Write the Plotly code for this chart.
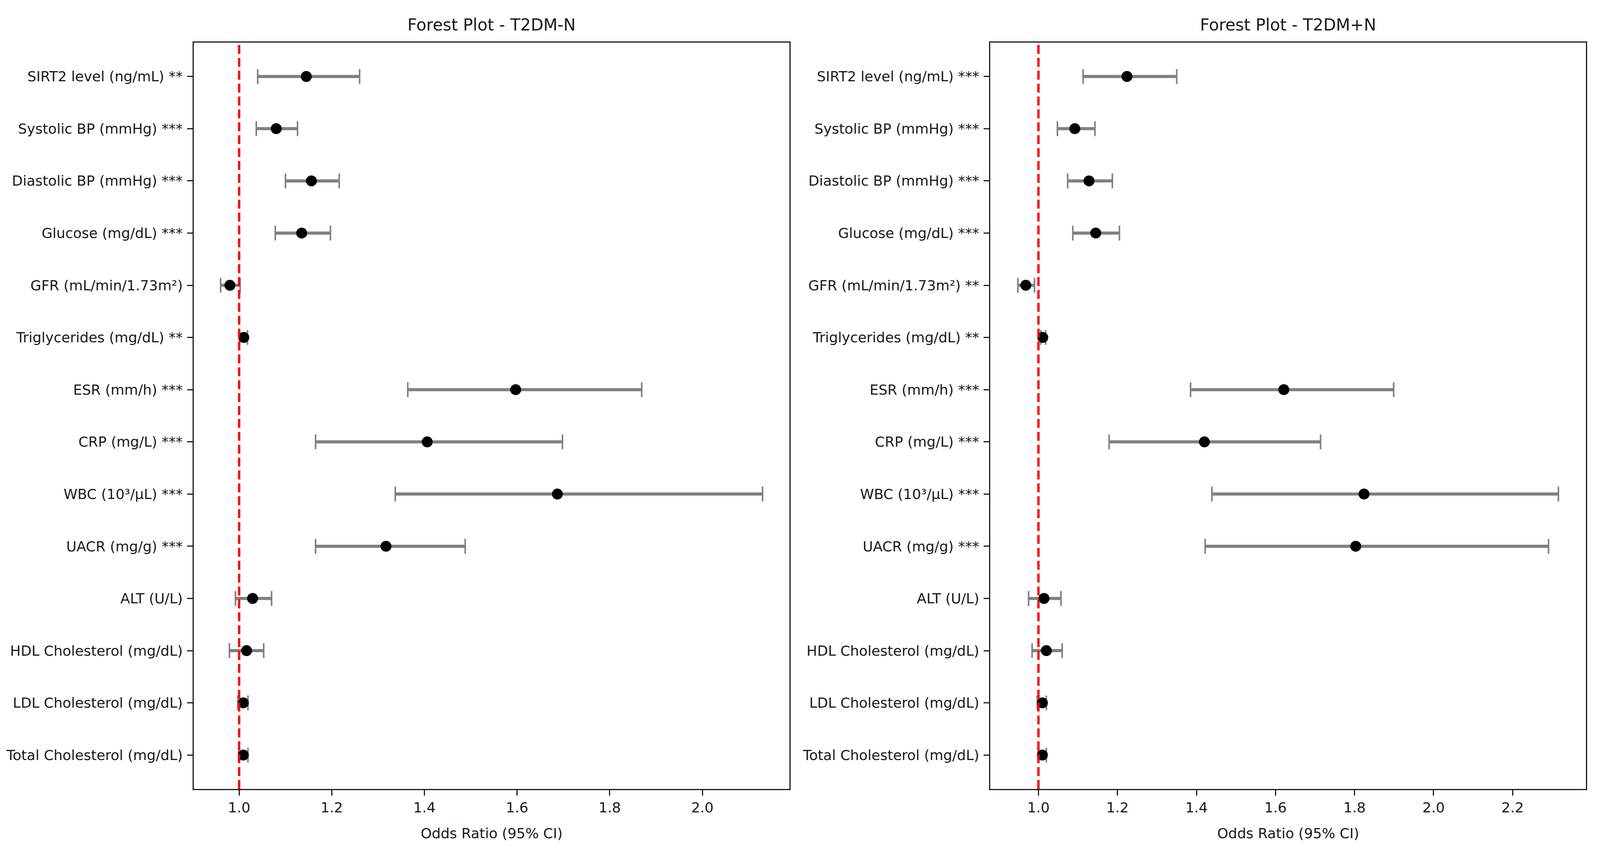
import plotly.graph_objects as go

# ---------------- data ----------------
labels_left = ["SIRT2 level (ng/mL) **", "Systolic BP (mmHg) ***", "Diastolic BP (mmHg) ***",
               "Glucose (mg/dL) ***", "GFR (mL/min/1.73m²)", "Triglycerides (mg/dL) **",
               "ESR (mm/h) ***", "CRP (mg/L) ***", "WBC (10³/μL) ***", "UACR (mg/g) ***",
               "ALT (U/L)", "HDL Cholesterol (mg/dL)", "LDL Cholesterol (mg/dL)",
               "Total Cholesterol (mg/dL)"]
or_left = [1.145, 1.080, 1.156, 1.135, 0.980, 1.010, 1.597, 1.406, 1.687, 1.317, 1.029, 1.016, 1.009, 1.009]
lo_left = [1.040, 1.037, 1.100, 1.078, 0.960, 1.001, 1.364, 1.165, 1.337, 1.165, 0.992, 0.979, 0.997, 0.999]
hi_left = [1.260, 1.126, 1.216, 1.197, 1.002, 1.018, 1.869, 1.698, 2.130, 1.488, 1.070, 1.053, 1.019, 1.019]

labels_right = ["SIRT2 level (ng/mL) ***", "Systolic BP (mmHg) ***", "Diastolic BP (mmHg) ***",
                "Glucose (mg/dL) ***", "GFR (mL/min/1.73m²) **", "Triglycerides (mg/dL) **",
                "ESR (mm/h) ***", "CRP (mg/L) ***", "WBC (10³/μL) ***", "UACR (mg/g) ***",
                "ALT (U/L)", "HDL Cholesterol (mg/dL)", "LDL Cholesterol (mg/dL)",
                "Total Cholesterol (mg/dL)"]
or_right = [1.224, 1.092, 1.128, 1.145, 0.968, 1.011, 1.621, 1.420, 1.824, 1.803, 1.014, 1.020, 1.010, 1.010]
lo_right = [1.113, 1.048, 1.074, 1.087, 0.948, 1.006, 1.385, 1.179, 1.439, 1.422, 0.975, 0.984, 0.997, 0.999]
hi_right = [1.350, 1.143, 1.187, 1.205, 0.990, 1.018, 1.899, 1.714, 2.316, 2.291, 1.057, 1.060, 1.020, 1.020]

titles = ["Forest Plot - T2DM-N", "Forest Plot - T2DM+N"]
x_title = "Odds Ratio (95% CI)"
ref_value = 1.0

# ---------------- figure ----------------
H = 2165
FONT = "DejaVu Sans"
fig = go.Figure()

panels = [
    (labels_left, or_left, lo_left, hi_left, "x", "y"),
    (labels_right, or_right, lo_right, hi_right, "x2", "y2"),
]

for labels, ors, los, his, xa, ya in panels:
    plus = [h - o for h, o in zip(his, ors)]
    minus = [o - l for o, l in zip(ors, los)]
    # caps (thin)
    fig.add_trace(go.Scatter(
        x=ors, y=labels, mode="markers", marker=dict(size=1, color="rgba(0,0,0,0)"),
        error_x=dict(type="data", array=plus, arrayminus=minus, symmetric=False,
                     color="#808080", thickness=4, width=19),
        xaxis=xa, yaxis=ya, showlegend=False, hoverinfo="skip"))
    # thick CI bars
    sx, sy = [], []
    for l, h, lab in zip(los, his, labels):
        sx += [l, h, None]
        sy += [lab, lab, None]
    fig.add_trace(go.Scatter(
        x=sx, y=sy, mode="lines", line=dict(color="#808080", width=8),
        xaxis=xa, yaxis=ya, showlegend=False, hoverinfo="skip"))
    # point estimates
    fig.add_trace(go.Scatter(
        x=ors, y=labels, mode="markers",
        marker=dict(symbol="circle", size=28, color="black", line=dict(width=0)),
        xaxis=xa, yaxis=ya, showlegend=False))
    # reference line
    fig.add_shape(type="line", x0=ref_value, x1=ref_value, y0=0, y1=1,
                  xref=xa, yref=f"{ya} domain", layer="above",
                  line=dict(color="red", width=6, dash="23px,10px"))

xdoms = [[0.1211, 0.4934], [0.6189, 0.9913]]
ydom = [0.0674, 0.9497]
xranges = [[0.902, 2.188], [0.878, 2.386]]
xtickvals = [[1.0, 1.2, 1.4, 1.6, 1.8, 2.0], [1.0, 1.2, 1.4, 1.6, 1.8, 2.0, 2.2]]

axis_common = dict(showline=True, mirror=True, linecolor="#1a1a1a", linewidth=3,
                   ticks="outside", ticklen=14, tickwidth=3, tickcolor="#1a1a1a",
                   showgrid=False, zeroline=False,
                   tickfont=dict(family=FONT, size=36, color="#1a1a1a"))

for i, (xd, xr, tv) in enumerate(zip(xdoms, xranges, xtickvals)):
    xkey = "xaxis" if i == 0 else "xaxis2"
    ykey = "yaxis" if i == 0 else "yaxis2"
    labels = panels[i][0]
    fig.update_layout({
        xkey: dict(domain=xd, range=xr, anchor="y" if i == 0 else "y2",
                   tickvals=tv, ticktext=[f"{v:.1f}" for v in tv],
                   ticklabelstandoff=0, **axis_common),
        ykey: dict(domain=ydom, anchor="x" if i == 0 else "x2", type="category",
                   categoryorder="array", categoryarray=labels,
                   range=[len(labels) - 1 + 0.65, -0.65],
                   ticklabelstandoff=4, **axis_common),
    })
    cx = (xd[0] + xd[1]) / 2
    fig.add_annotation(text=titles[i], x=cx, y=1 - 63 / H, xref="paper", yref="paper",
                       showarrow=False, xanchor="center", yanchor="middle",
                       font=dict(family=FONT, size=42, color="#1a1a1a"))
    fig.add_annotation(text=x_title, x=cx, y=1 - 2132 / H, xref="paper", yref="paper",
                       showarrow=False, xanchor="center", yanchor="middle",
                       font=dict(family=FONT, size=36, color="#1a1a1a"))

fig.update_layout(autosize=True, margin=dict(l=0, r=0, t=0, b=0),
                  paper_bgcolor="white", plot_bgcolor="white",
                  font=dict(family=FONT, size=36, color="#1a1a1a"))

post = ("document.body.style.margin='0';"
        "document.body.style.overflow='hidden';"
        "var gd=document.getElementById('{plot_id}');"
        "gd.style.width='100vw';gd.style.height='100vh';"
        "Plotly.Plots.resize(gd);")

fig.write_html("out.html", default_width="100vw", default_height="100vh",
               post_script=post, config={"displayModeBar": False, "responsive": True})
